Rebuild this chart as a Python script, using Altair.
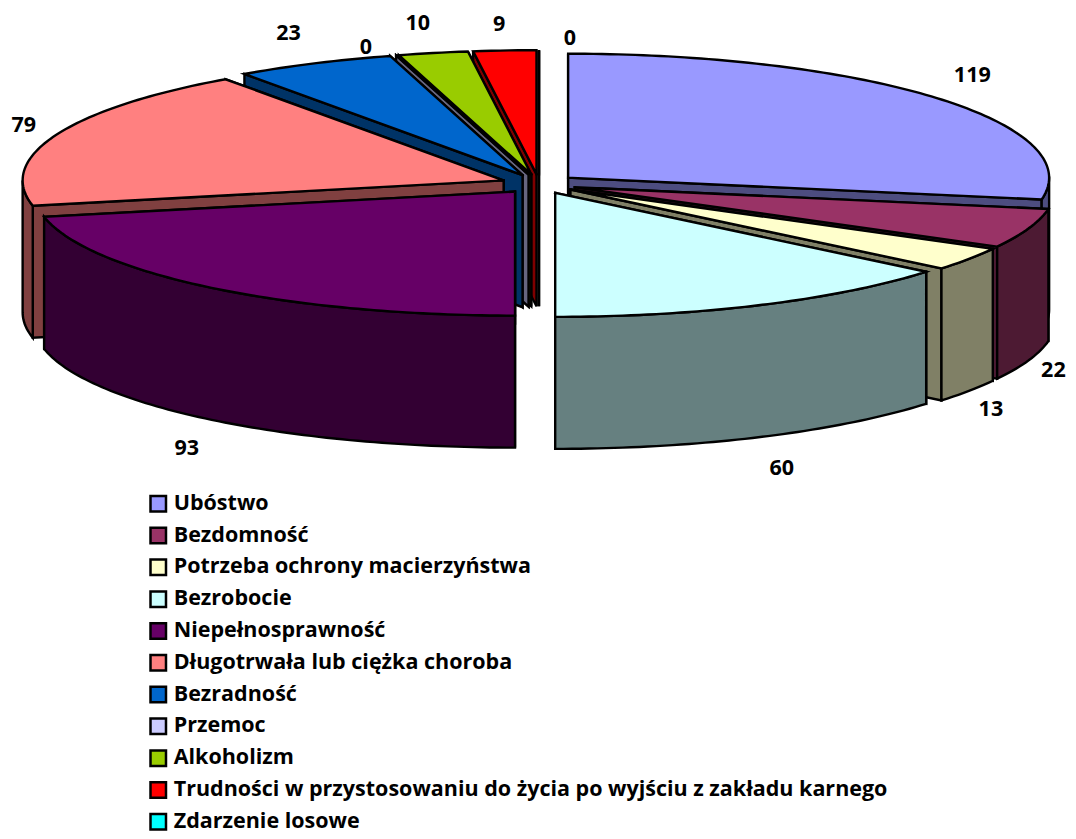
import math
import altair as alt
import pandas as pd

categories = ["Ubóstwo", "Bezdomność", "Potrzeba ochrony macierzyństwa", "Bezrobocie",
              "Niepełnosprawność", "Długotrwała lub ciężka choroba", "Bezradność", "Przemoc",
              "Alkoholizm", "Trudności w przystosowaniu do życia po wyjściu z zakładu karnego",
              "Zdarzenie losowe"]
values = [119, 22, 13, 60, 93, 79, 23, 0, 10, 9, 0]
top_colors = ["#9999FF", "#993366", "#FFFFCC", "#CCFFFF", "#660066", "#FF8080",
              "#0066CC", "#CCCCFF", "#99CC00", "#FF0000", "#00FFFF"]
wall_colors = ["#4D4D80", "#4D1A33", "#808066", "#668080", "#330033", "#804040",
               "#003366", "#666680", "#4D6600", "#800000", "#008080"]
draw_order = [10, 9, 8, 7, 6, 5, 4, 0, 1, 2, 3]

# projection of the tilted pie, in page pixels
CX, CY, RX, RY, DEPTH, EXPLODE = 539.0, 184.0, 481.0, 124.0, 132.0, 38.0
LABEL_CX, LABEL_RX, LABEL_RY = 540.0, 560.0, 168.0
LABEL_NUDGE = {0: (3, 0), 1: (-15, -1), 2: (-13, 0), 3: (3, 1), 4: (0, 3), 5: (5, 3),
               6: (-9, 1), 7: (-20, 26), 8: (-8, 4), 9: (-4, 9), 10: (30, 23)}
FONT = "Open Sans"
total = sum(values)


def rim(vx, vy, deg):
    a = math.radians(deg)
    return vx + RX * math.sin(a), vy - RY * math.cos(a)


def sweep(vx, vy, a0, a1):
    n = max(1, int(a1 - a0))
    return [rim(vx, vy, a0 + (a1 - a0) * k / n) for k in range(n + 1)]


slices = []
cum = 0
for i, v in enumerate(values):
    a0 = cum / total * 360
    cum += v
    a1 = cum / total * 360
    mid = math.radians((a0 + a1) / 2)
    vx = CX + EXPLODE * math.sin(mid)
    vy = CY - EXPLODE * RY / RX * math.cos(mid)
    slices.append(dict(i=i, vx=vx, vy=vy, a0=a0, a1=a1, arc=sweep(vx, vy, a0, a1), mid=mid))

X = alt.X("x:Q", axis=None, scale=alt.Scale(domain=[8, 1068], nice=False, zero=False))
Y = alt.Y("y:Q", axis=None, scale=alt.Scale(domain=[831, 8], nice=False, zero=False))


def poly(points, fill):
    rows = [dict(x=p[0], y=p[1], k=k) for k, p in enumerate(list(points) + [points[0]])]
    return alt.Chart(pd.DataFrame(rows)).mark_line(
        fill=fill, stroke="black", strokeWidth=2.4, strokeJoin="miter", strokeCap="square"
    ).encode(x=X, y=Y, order="k:Q")


layers = []
# invisible layer that carries the legend
legend_df = pd.DataFrame({"cat": categories, "x": [CX] * len(values), "y": [CY] * len(values)})
layers.append(
    alt.Chart(legend_df).mark_square(opacity=0).encode(
        x=X, y=Y,
        fill=alt.Fill("cat:N", scale=alt.Scale(domain=categories, range=top_colors),
                      legend=alt.Legend(
                          title=None, orient="none", legendX=139.5, legendY=485,
                          symbolType="square", symbolSize=240, symbolOpacity=1,
                          symbolStrokeColor="black", symbolStrokeWidth=2.5,
                          labelFont=FONT, labelFontSize=21.5, labelFontWeight="bold",
                          labelColor="black", labelLimit=900, labelOffset=4.7,
                          rowPadding=5.8, padding=0)),
    )
)

for i in draw_order:
    s = slices[i]
    vx, vy, arc = s["vx"], s["vy"], s["arc"]
    wall = wall_colors[i]
    # the radial wall further back goes first, so the nearer one hides it
    for end in sorted((arc[0], arc[-1]), key=lambda p: p[1]):
        layers.append(poly([(vx, vy), end, (end[0], end[1] + DEPTH), (vx, vy + DEPTH)], wall))
    # only the part of the curved wall that faces the viewer
    w0, w1 = max(s["a0"], 90.0), min(s["a1"], 270.0)
    if w1 > w0:
        front = sweep(vx, vy, w0, w1)
        lower = [(p[0], p[1] + DEPTH) for p in reversed(front)]
        layers.append(poly(front + lower, wall))
    layers.append(poly([(vx, vy)] + list(arc), top_colors[i]))

lx, ly, lt = [], [], []
for s, v in zip(slices, values):
    i = s["i"]
    sa, ca = math.sin(s["mid"]), math.cos(s["mid"])
    nx, ny = LABEL_NUDGE.get(i, (0, 0))
    lx.append(LABEL_CX + LABEL_RX * sa + nx)
    ly.append(CY - LABEL_RY * ca + (DEPTH if ca < 0 else 0) + ny)
    lt.append(str(v))
layers.append(
    alt.Chart(pd.DataFrame({"x": lx, "y": ly, "t": lt})).mark_text(
        font=FONT, fontSize=21.5, fontWeight="bold", color="black", align="center", baseline="middle"
    ).encode(x=X, y=Y, text="t:N")
)

chart = alt.layer(*layers).properties(
    width=1060, height=823, padding=0, background="white",
    autosize=alt.AutoSizeParams(type="none")
).configure_view(stroke=None)

chart.save("out.html", embed_options={"renderer": "svg", "actions": False})
